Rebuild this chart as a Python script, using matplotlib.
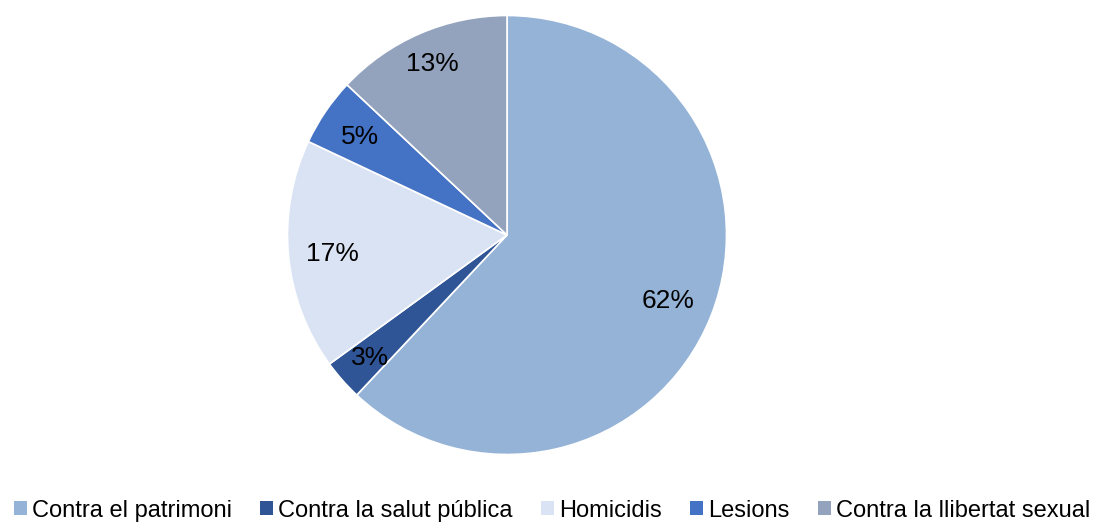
import numpy as np
import matplotlib.pyplot as plt
from matplotlib.patches import Patch

categories = ['Contra el patrimoni', 'Contra la salut pública', 'Homicidis',
              'Lesions', 'Contra la llibertat sexual']
shares = [62, 3, 17, 5, 13]
colors = ['#95B3D7', '#2F5597', '#DAE3F3', '#4472C4', '#94A3BD']
# radial position of each percentage label (fraction of the radius)
label_radius = [0.79, 0.83, 0.80, 0.81, 0.86]

plt.rcParams['font.family'] = ['Liberation Sans', 'DejaVu Sans']

fig = plt.figure(figsize=(10.95, 5.24), dpi=100)
# pie centred at (507, 235) px with radius ~219 px
cx, cy, r = 507, 235, 219.5
ax = fig.add_axes([(cx - r) / 1095, (524 - cy - r) / 524, 2 * r / 1095, 2 * r / 524])

wedges, _, pcts = ax.pie(shares, colors=colors, startangle=90, counterclock=False,
                         autopct='%1.0f%%', pctdistance=0.8,
                         wedgeprops=dict(edgecolor='white', linewidth=1.2),
                         textprops=dict(fontsize=19, color='black'))
for w, t, lr in zip(wedges, pcts, label_radius):
    mid = np.deg2rad((w.theta1 + w.theta2) / 2)
    t.set_position((lr * np.cos(mid), lr * np.sin(mid) - 0.01))

ax.set_xlim(-1, 1)
ax.set_ylim(-1, 1)
ax.set_aspect('equal')

handles = [Patch(facecolor=c, edgecolor='none') for c in colors]
fig.legend(handles, categories, loc='lower center', bbox_to_anchor=(0.504, -0.036),
           ncol=5, frameon=False, fontsize=17, handlelength=0.56, handleheight=0.56,
           handletextpad=0.2, columnspacing=1.2)

fig.savefig('out.png', dpi=100)
